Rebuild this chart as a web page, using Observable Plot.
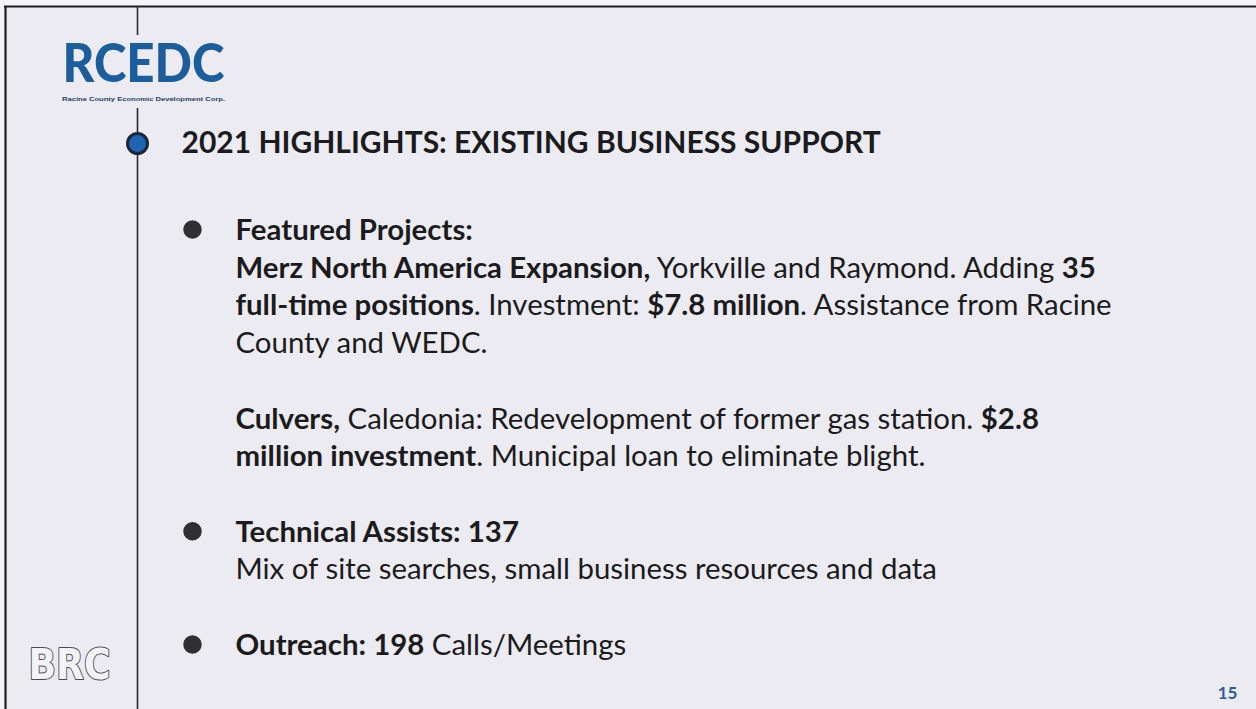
<!DOCTYPE html>
<html><head><meta charset="utf-8">
<script src="https://cdn.jsdelivr.net/npm/d3@7"></script>
<script src="https://cdn.jsdelivr.net/npm/@observablehq/plot@0.6"></script>
<style>
html,body{margin:0;padding:0;background:#f5f4f8;}
#chart svg{display:block}
</style></head><body><div id="chart"></div>
<script>
// ---- content ----
const title = "2021 HIGHLIGHTS: EXISTING BUSINESS SUPPORT";
const logoText = "RCEDC";
const logoSub = "Racine County Economic Development Corp.";
const footLogo = "BRC";
const pageNumber = "15";
// each body line is a list of [text, bold]
const lineSegments = [
  [["Featured Projects:", 1]],
  [["Merz North America Expansion,", 1], [" Yorkville and Raymond. Adding ", 0], ["35", 1]],
  [["full-time positions", 1], [". Investment: ", 0], ["$7.8 million", 1], [". Assistance from Racine", 0]],
  [["County and WEDC.", 0]],
  [],
  [["Culvers,", 1], [" Caledonia: Redevelopment of former gas station. ", 0], ["$2.8", 1]],
  [["million investment", 1], [". Municipal loan to eliminate blight.", 0]],
  [],
  [["Technical Assists: 137", 1]],
  [["Mix of site searches, small business resources and data", 0]],
  [],
  [["Outreach: 198", 1], [" Calls/Meetings", 0]]
];
const bulletRows = [0, 8, 11];

// ---- layout ----
const W = 1256, H = 709;
const row = d3.scaleLinear().domain([0, 11]).range([230, 645]);
const textX = 235, bulletX = 192, lineX = 137;
const bodyFont = "Lato, 'Open Sans', sans-serif";

const lines = lineSegments.map((segs, i) => ({i, segs, text: segs.map(s => s[0]).join("")}))
  .filter(d => d.segs.length);
const bullets = bulletRows.map(i => ({i}));

const chart = Plot.plot({
  width: W, height: H,
  margin: 0,
  x: {type: "identity", axis: null},
  y: {type: "identity", axis: null},
  style: {background: "transparent", overflow: "visible"},
  marks: [
    Plot.rect([{}], {x1: 5, x2: W, y1: 6, y2: H, fill: "#ecebf1"}),
    Plot.ruleY([6], {x1: 4, x2: W, stroke: "#1e1e22", strokeWidth: 2.2}),
    Plot.ruleX([5], {y1: 6, y2: H, stroke: "#1e1e22", strokeWidth: 2.2}),
    Plot.ruleX([{y1: 6, y2: 35}, {y1: 108, y2: H}], {x: () => lineX, y1: "y1", y2: "y2", stroke: "#2a2a30", strokeWidth: 1.6}),
    Plot.dot([{}], {x: () => lineX, y: () => row(0) - 87, r: 10, fill: "#1f63b3", stroke: "#1a2738", strokeWidth: 3}),
    Plot.text([title], {x: () => 181, y: () => row(0) - 87, text: d => d, textAnchor: "start", fontSize: 30, fontWeight: 700, fill: "#1b1b1d", fontFamily: bodyFont}),
    Plot.dot(bullets, {x: () => bulletX, y: d => row(d.i) - 1, r: 8.5, fill: "#2f3033", stroke: "#2f3033"}),
    Plot.text(lines, {x: () => textX, y: d => row(d.i), text: "text", textAnchor: "start", fontSize: 29.4, fill: "#1b1b1d", fontFamily: bodyFont, className: "body-line"}),
    Plot.text([logoText], {x: () => 143, y: () => 64, text: d => d, fontSize: 54, fontWeight: 900, fill: "#1c5d9c", fontFamily: "Lato, sans-serif", className: "logo-main"}),
    Plot.text([logoSub], {x: () => 143, y: () => 99, text: d => d, fontSize: 6, fontWeight: 700, fill: "#1b3b6e", fontFamily: "'Liberation Sans', sans-serif", className: "logo-sub"}),
    Plot.text([footLogo], {x: () => 69, y: () => 665, text: d => d, fontSize: 42, fontWeight: 900, fill: "#f4f3f7", stroke: "#4a4a50", strokeWidth: 2, fontFamily: "'DejaVu Sans', sans-serif", className: "foot-logo"}),
    Plot.text([pageNumber], {x: () => 1227, y: () => 693, text: d => d, fontSize: 17, fontWeight: 700, fill: "#2d5c9c", fontFamily: bodyFont})
  ]
});

// rich text: rebuild each body line from its bold / regular segments
const svg = d3.select(chart);
svg.selectAll(".body-line text").each(function(_, k) {
  const d = lines[k];
  const t = d3.select(this);
  t.text(null);
  d.segs.forEach(([s, b]) => {
    t.append("tspan").attr("font-weight", b ? 700 : 400).attr("xml:space", "preserve").style("white-space", "pre").text(s);
  });
});
svg.selectAll(".logo-main text").attr("textLength", 162).attr("lengthAdjust", "spacingAndGlyphs");
svg.selectAll(".logo-sub text").attr("textLength", 163).attr("lengthAdjust", "spacingAndGlyphs");
svg.selectAll(".foot-logo text").attr("textLength", 82).attr("lengthAdjust", "spacingAndGlyphs");
document.getElementById("chart").appendChild(chart);
</script></body></html>
